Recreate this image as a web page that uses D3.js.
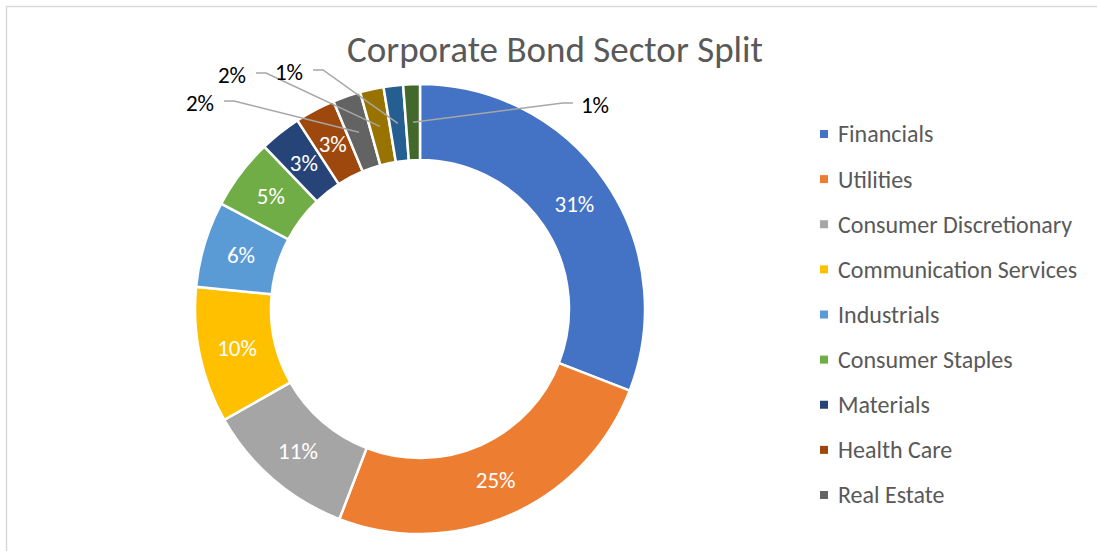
<!DOCTYPE html>
<html>
<head>
<meta charset="utf-8">
<title>Corporate Bond Sector Split</title>
<script src="https://d3js.org/d3.v7.min.js"></script>
<style>
  body { margin: 0; background: #fff; }
  svg { font-family: Carlito, "Open Sans", sans-serif; }
</style>
</head>
<body>
<svg width="1097" height="551"></svg>
<script>
// data
const sectors = ["Financials", "Utilities", "Consumer Discretionary", "Communication Services",
  "Industrials", "Consumer Staples", "Materials", "Health Care", "Real Estate",
  "Energy", "Information Technology", "Other"];
const shares = [31, 25, 11, 9.8, 6.2, 5.1, 3, 2.9, 2, 1.7, 1.4, 1.2];
const colors = ["#4472C4", "#ED7D31", "#A5A5A5", "#FFC000", "#5B9BD5", "#70AD47",
  "#264478", "#9E480E", "#636363", "#997300", "#255E91", "#43682B"];

// outside labels for the thin slices: offset of the label from the ring centre
const outside = { 8: [-220, -206], 9: [-188, -234], 10: [-131, -237], 11: [175, -204] };

const svg = d3.select("svg");
const cx = 420, cy = 309, rOut = 225, rIn = 149;

// frame
svg.append("path").attr("d", "M6.5,551 V6.5 H1097")
  .attr("fill", "none").attr("stroke", "#d9d9d9").attr("stroke-width", 1.5);

svg.append("text").attr("x", 555).attr("y", 62).attr("text-anchor", "middle")
  .attr("fill", "#595959").style("font-size", "37px").text("Corporate Bond Sector Split");

const pie = d3.pie().sort(null).value(d => d)(shares);
const arc = d3.arc().innerRadius(rIn).outerRadius(rOut);
const mid = d3.arc().innerRadius((rIn + rOut) / 2).outerRadius((rIn + rOut) / 2);
const total = d3.sum(shares);
const pct = v => Math.round(v / total * 100) + "%";

const g = svg.append("g").attr("transform", "translate(" + cx + "," + cy + ")");
g.selectAll("path.slice").data(pie).enter().append("path")
  .attr("class", "slice")
  .attr("d", arc)
  .attr("fill", (d, i) => colors[i])
  .attr("stroke", "#fff").attr("stroke-width", 2.5);

pie.forEach((d, i) => {
  const c = mid.centroid(d);
  if (outside[i]) {
    const [lx, ly] = outside[i];
    const t = g.append("text").attr("x", lx).attr("y", ly).attr("dy", "0.35em")
      .attr("text-anchor", "middle").attr("fill", "#000").style("font-size", "23px")
      .text(pct(d.value));
    const w = t.node().getBBox().width;
    const right = lx > 0;
    const hx = right ? lx - w / 2 - 8 : lx + w / 2 + 10;
    const hx2 = right ? hx - 10 : hx + 10;
    g.insert("polyline", "text")
      .attr("points", [[hx, ly - 2], [hx2, ly - 2], c].map(p => p.join(",")).join(" "))
      .attr("fill", "none").attr("stroke", "#a6a6a6").attr("stroke-width", 1.5);
  } else {
    g.append("text").attr("x", c[0]).attr("y", c[1]).attr("dy", "0.35em")
      .attr("text-anchor", "middle").attr("fill", "#fff").style("font-size", "23px")
      .text(pct(d.value));
  }
});

// legend: only the entries that fit are shown
const legendRows = d3.range(9);
const ly = d3.scaleLinear().domain([0, 8]).range([134, 495]);
const leg = svg.append("g");
legendRows.forEach(i => {
  leg.append("rect").attr("x", 820).attr("y", ly(i) - 4).attr("width", 8).attr("height", 8)
    .attr("fill", colors[i]);
  leg.append("text").attr("x", 838).attr("y", ly(i)).attr("dy", "0.35em")
    .attr("fill", "#595959").style("font-size", "24px").text(sectors[i]);
});
</script>
</body>
</html>
